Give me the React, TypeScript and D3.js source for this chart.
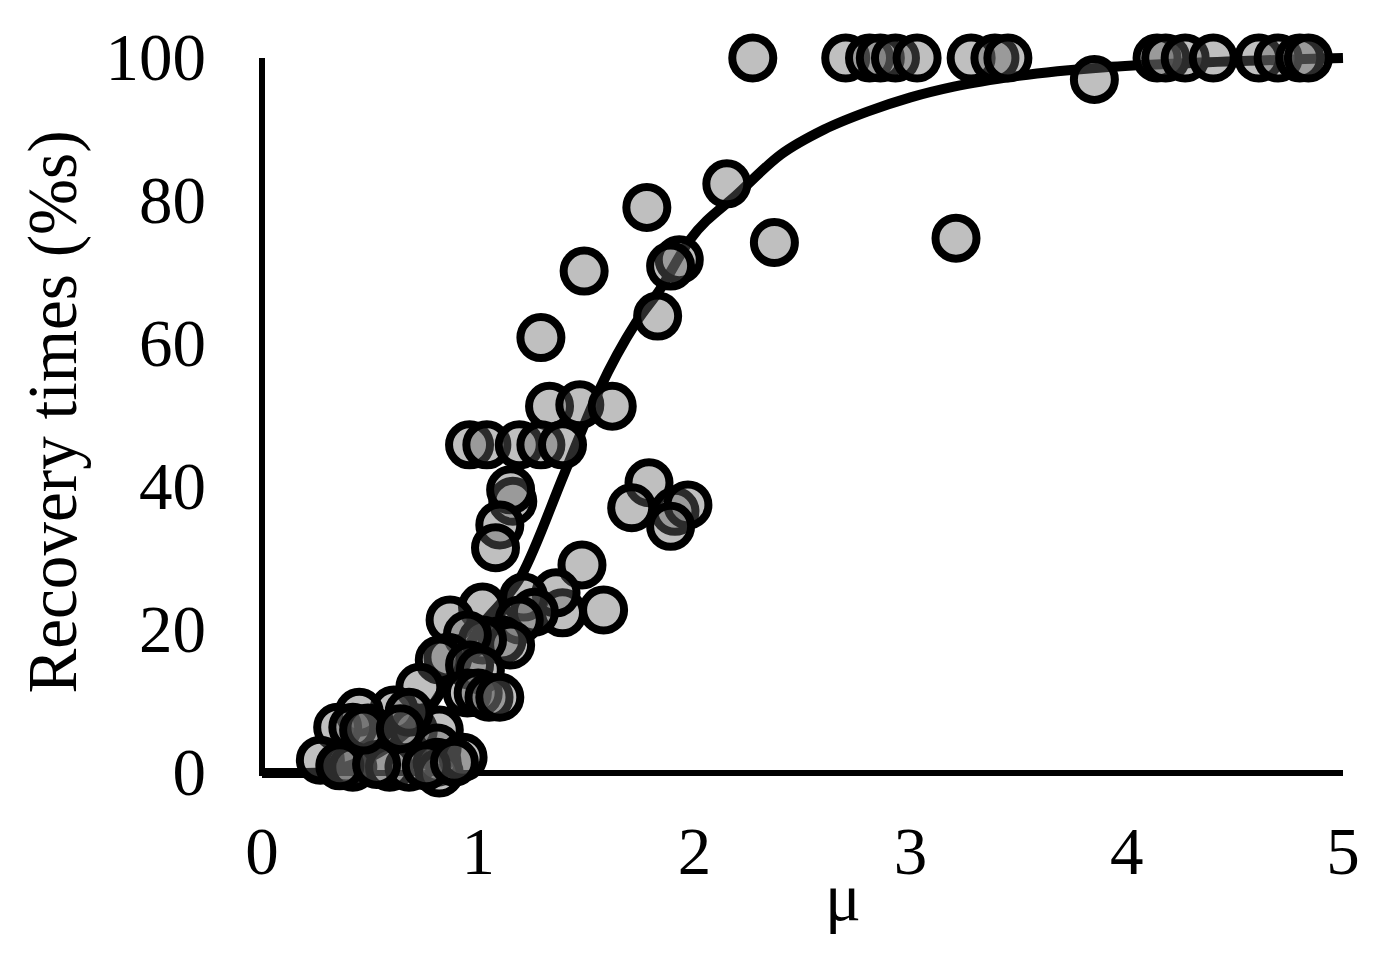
import React from "react";
import * as d3 from "d3";

const W = 1380;
const H = 964;

const xTicks = [0, 1, 2, 3, 4, 5];
const yTicks = [0, 20, 40, 60, 80, 100];

const pointX = [
  2.27, 2.70, 2.81, 2.86, 2.93, 3.03, 3.28, 3.39, 3.45, 4.14, 4.18, 4.27, 4.40, 4.61, 4.70, 4.80, 4.84,
  3.85, 3.21, 2.37, 2.15, 1.93, 1.89, 1.83, 1.78, 1.49, 1.29,
  1.33, 1.47, 1.62, 0.96, 1.04, 1.19, 1.29, 1.39,
  1.79, 1.71, 1.91, 1.97, 1.89, 1.16, 1.15, 1.10, 1.08,
  1.48, 1.58, 1.39, 1.36, 1.21, 1.26, 1.02, 1.19, 1.11, 1.15,
  0.87, 1.02, 0.95, 0.86, 0.82, 0.96, 1.01, 0.73, 0.95, 1.0, 1.05, 1.10,
  0.61, 0.45, 0.35, 0.42, 0.49, 0.70, 0.82, 0.81, 0.68,
  0.27, 0.39, 0.42, 0.59, 0.68, 0.81, 0.82, 0.93,
  0.36, 0.53, 0.76, 0.89, 0.47, 0.64,
];
const pointY = [
  100, 100, 100, 100, 100, 100, 100, 100, 100, 100, 100, 100, 100, 100, 100, 100, 100,
  97, 74.8, 74.2, 82.4, 71.8, 70.9, 63.9, 79.1, 70.2, 60.9,
  51.3, 51.5, 51.3, 45.9, 45.9, 45.9, 45.9, 45.9,
  40.6, 37.1, 36.6, 37.5, 34.5, 38.0, 39.6, 34.7, 31.5,
  29.1, 22.8, 22.4, 25.2, 24.6, 22.5, 23.2, 21.4, 18.6, 17.9,
  21.4, 18.6, 19.3, 16.2, 15.8, 15.1, 14.4, 12.0, 11.2, 11.2, 10.6, 10.6,
  8.8, 8.5, 6.4, 6.4, 6.3, 6.0, 6.0, 3.5, 8.5,
  1.8, 1.4, 0.8, 0.8, 0.8, 1.5, 0, 2.2,
  1.0, 1.2, 1.0, 1.5, 6.0, 6.2,
];

const curveX = [0, 0.2, 0.4, 0.6, 0.8, 0.9, 1.0, 1.2, 1.4, 1.56, 1.73, 1.84, 1.98, 2.2, 2.4, 2.6, 2.8, 3.0, 3.2, 3.5, 3.9, 4.3, 5.0];
const curveY = [0, 0, 1, 4, 10, 15, 20, 27.6, 42, 53.6, 63, 67.6, 74.6, 81, 86.5, 90, 92.5, 94.5, 96, 97.5, 98.7, 99.3, 100];

const xLabel = "μ";
const yLabel = "Recovery times (%s)";

export default function App() {
  const x = d3.scaleLinear().domain([0, 5]).range([262, 1343]);
  const y = d3.scaleLinear().domain([0, 100]).range([773, 58]);

  const curvePts: [number, number][] = curveX.map((v, i) => [v, curveY[i]]);
  const line = d3
    .line<[number, number]>()
    .x((d) => x(d[0]))
    .y((d) => y(d[1]))
    .curve(d3.curveMonotoneX);

  const font = "'Liberation Serif', 'Times New Roman', serif";

  return (
    <svg
      width={W}
      height={H}
      style={{ position: "absolute", left: 0, top: 0, background: "#fff" }}
    >
      <rect width={W} height={H} fill="#fff" />
      {/* axes */}
      <line x1={x(0)} x2={x(0)} y1={y(100)} y2={y(0) + 3} stroke="#000" strokeWidth={6} />
      <line x1={x(0) - 3} x2={x(5)} y1={y(0)} y2={y(0)} stroke="#000" strokeWidth={6} />
      {/* fitted curve */}
      <path d={line(curvePts) || ""} fill="none" stroke="#000" strokeWidth={10} strokeLinejoin="round" />
      {/* points */}
      {pointX.map((v, i) => (
        <circle
          key={i}
          cx={x(v)}
          cy={y(pointY[i])}
          r={20.5}
          fill="#666"
          fillOpacity={0.42}
          stroke="#000"
          strokeWidth={8}
        />
      ))}
      {/* y tick labels */}
      {yTicks.map((t) => (
        <text
          key={"y" + t}
          x={206}
          y={y(t) + 22}
          textAnchor="end"
          fontFamily={font}
          fontSize={67}
          fill="#000"
        >
          {t}
        </text>
      ))}
      {/* x tick labels */}
      {xTicks.map((t) => (
        <text
          key={"x" + t}
          x={x(t)}
          y={874}
          textAnchor="middle"
          fontFamily={font}
          fontSize={67}
          fill="#000"
        >
          {t}
        </text>
      ))}
      <text x={843} y={920} textAnchor="middle" fontFamily={font} fontSize={67} fill="#000">
        {xLabel}
      </text>
      <text
        transform={`translate(76, 412) rotate(-90)`}
        textAnchor="middle"
        fontFamily={font}
        fontSize={70}
        textLength={563}
        lengthAdjust="spacingAndGlyphs"
        fill="#000"
      >
        {yLabel}
      </text>
    </svg>
  );
}
